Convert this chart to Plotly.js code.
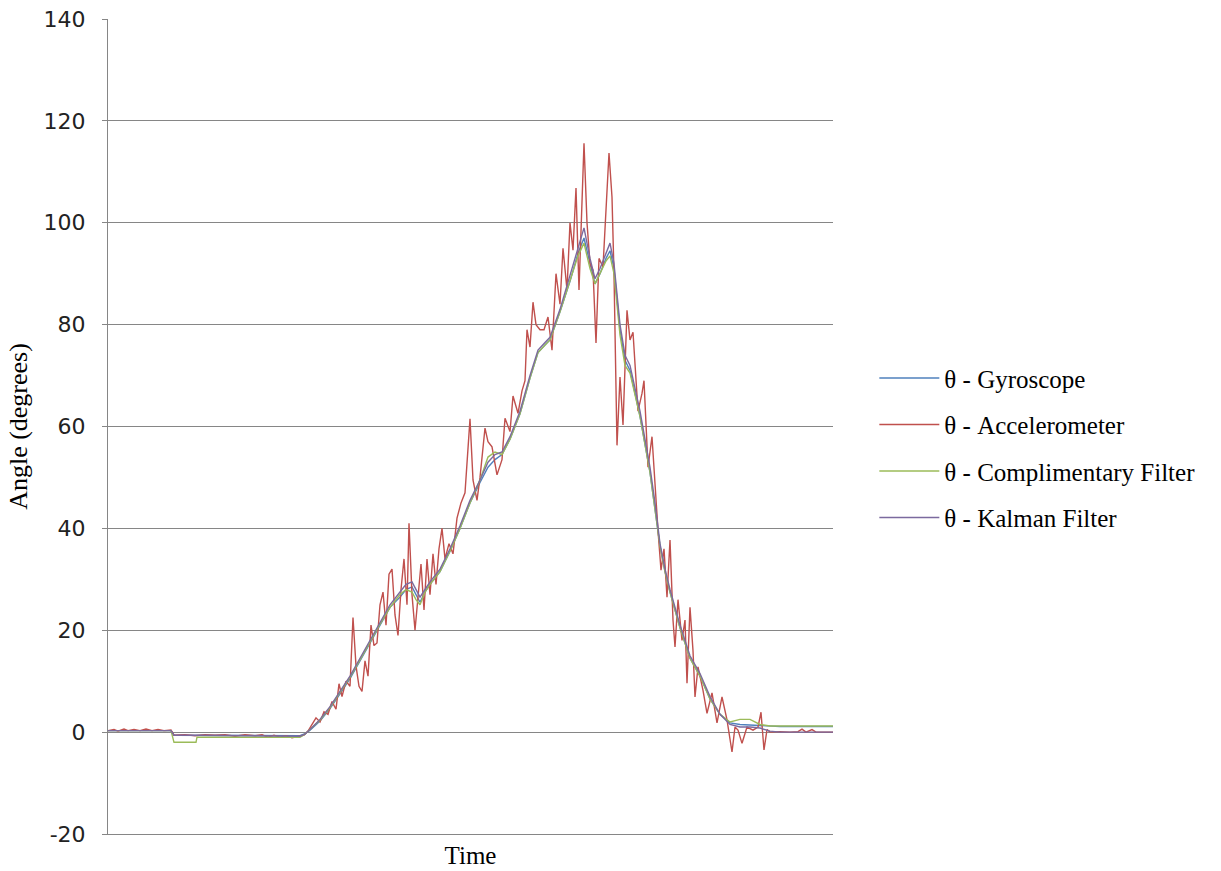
<!DOCTYPE html>
<html>
<head>
<meta charset="utf-8">
<script src="https://cdn.plot.ly/plotly-3.0.1.min.js"></script>
<style>html,body{margin:0;padding:0;background:#fff;}#chart{width:1221px;height:871px;}</style>
</head>
<body>
<div id="chart"></div>
<script>
// Accelerometer (noisy) series
var accelTime = [108,114,118,124,128,134,140,146,152,158,
164,171,174,185,195,205,215,225,235,245,
255,262,268,274,280,286,292,298,304,308,
312,316,320,324,328,332,336,339,342,346,
350,353,356,359,362,365,368,371,374,377,
380,383,386,389,392,395,398,401,404,407,
409,412,415,418,421,424,427,430,433,436,
439,442,445,449,453,457,461,465,470,473,
477,480,485,488,492,497,502,505,510,513,
518,522,525,527,530,533,536,540,544,548,
552,556,560,563,567,570,573,576,579,584,
587,590,593,596,599,603,606,609,612,614,
617,620,623,627,630,633,638,642,644,648,
652,655,658,661,664,667,670,673,675,678,
682,685,687,690,693,695,698,703,707,712,
717,722,727,732,735,738,742,747,753,758,
761,764,767,770,780,790,798,802,806,812,
816,833];
var accelAngle = [0.3,0.5,0.2,0.6,0.3,0.5,0.3,0.6,0.3,0.5,
0.3,0.4,-0.6,-0.5,-0.7,-0.5,-0.6,-0.5,-0.8,-0.5,
-0.7,-0.5,-1.0,-0.6,-1.0,-0.7,-1.1,-0.8,-0.6,0.2,
1.5,2.8,2,4,3.5,6,4.5,9.5,7,10,
9,22.5,13,9,8,14,11,21,17,17.5,
25,27.5,21,31,32,23,19,28,34,25,
41,27,20,26,33,24,34,27,35,29,
36,40,34,37,35,42,45,47,61.5,49.5,
45.5,50,59.7,57,56,50.5,53.5,61.6,59,66,
62.6,67,69,79,75.6,84.4,80,79,79,81.5,
75,90,84,95,86.8,100,94.6,106.8,86.8,115.6,
100,92,90.7,76.4,93,91.3,102,113.7,105,90,
56.3,69.7,60.3,82.8,77,78.5,63,66.5,69,52,
58,48,39.6,31.8,36,26.5,37.7,22,16.7,26,
18,22,9.6,24.5,16,6.9,12.8,8.2,3.7,7.7,
1.8,6.9,2.4,-3.9,1,0.4,-2.2,1,0.4,1,
3.9,-3.5,0.5,0,0.1,0,0.1,0.6,0,0.5,
0,0];

// Smooth series share one time base
var smoothTime = [108,171,174,196,197,300,305,310,320,330,
340,350,360,370,380,390,400,406,412,416,
420,425,430,440,450,460,470,480,488,495,
502,510,520,530,538,545,550,560,570,578,
584,590,595,600,606,610,614,620,625,630,
640,650,655,660,665,670,680,690,700,710,
720,730,740,750,760,770,780,798,833];
var gyroAngle = [0.3,0.3,-0.6,-0.6,-0.6,-0.7,-0.3,0.4,2.2,4.6,
7.5,10.5,14,17.5,21,24.5,26.5,28,28.5,27,
25.5,27.5,29,31.5,35.5,40,45,49,52,53.5,
54.5,57.5,62.5,69.5,74.5,76,77,82.5,88.5,94,
97,92,88,90,93,94.5,91,79,73,71,
62,51,44,36.5,31.5,27.5,20.5,14.5,11,6.5,
3.5,1.8,1.5,1.4,1.2,1.1,1.1,1.1,1.1];
var compAngle = [0.3,0.3,-2,-2,-1,-1,-0.4,0.5,2.4,4.8,
7.8,10.8,14.2,17.8,21.2,24.5,27,28,27.5,26,
25,27.5,29,31.5,35.5,40,45,49.5,54,55,
54.5,57.5,62.5,69.5,74.5,76,77,82.5,88.5,93.5,
96,91,88,90,92.5,93.5,90,78,72,70.5,
62,51,44,36.5,31.5,27.5,20.5,14.5,11,6.5,
3.5,2,2.5,2.5,1.5,1.2,1.2,1.2,1.2];
var kalmanAngle = [0.3,0.3,-0.6,-0.6,-0.6,-0.8,-0.4,0.5,2.5,5,
8,11,14.5,18,21.5,25,27.5,29,29.5,28,
26.5,28,29.5,32,36,40.5,45.5,49.5,53,54.5,
55,58,63,70,75,76.5,77.5,83,89.5,95,
99,93,89,91,94,96,92,80,74,72,
63,52,45,37,32,28,21,15,11.5,7,
3.5,1.5,1,1,0.8,0.2,0,0,0];

var seriesNames = ['θ - Gyroscope','θ - Accelerometer','θ - Complimentary Filter','θ - Kalman Filter'];
var seriesColors = ['#4F81BD','#C0504D','#9BBB59','#7B6A9E'];
var yTicks = [-20,0,20,40,60,80,100,120,140];

var xs = [smoothTime, accelTime, smoothTime, smoothTime];
var ys = [gyroAngle, accelAngle, compAngle, kalmanAngle];
var traces = seriesNames.map(function(n,i){
  return {x: xs[i], y: ys[i], type:'scatter', mode:'lines', name:n,
    legendgroup:'g'+i, line:{color:seriesColors[i], width:1.4}};
});

var serif = 'Liberation Serif, Times New Roman, serif';
var layout = {
  width:1221, height:871,
  margin:{l:108, r:388, t:19, b:37},
  paper_bgcolor:'#fff', plot_bgcolor:'#fff',
  showlegend:true,
  legend:{x:1.057, xanchor:'left', y:0.474, yanchor:'middle',
    traceorder:'grouped', tracegroupgap:11,
    font:{family:serif, size:25, color:'#000'},
    itemwidth:60, bgcolor:'rgba(0,0,0,0)'},
  xaxis:{range:[108,833], showgrid:false, zeroline:false, showticklabels:false,
    showline:true, linecolor:'#868686', linewidth:1, ticks:'',
    title:{text:'Time', standoff:12, font:{family:serif, size:25, color:'#000'}}},
  yaxis:{range:[-20,140], tickvals:yTicks, ticktext:yTicks.map(String),
    showgrid:true, gridcolor:'#868686', gridwidth:1, zeroline:false,
    showline:true, linecolor:'#868686', linewidth:1,
    ticks:'outside', ticklen:5, tickcolor:'#868686', ticklabelstandoff:12,
    tickfont:{family:'DejaVu Sans, sans-serif', size:22, color:'#222'},
    title:{text:'Angle (degrees)', standoff:8, font:{family:serif, size:26, color:'#000'}}}
};
Plotly.newPlot('chart', traces, layout, {displayModeBar:false, staticPlot:true});
</script>
</body>
</html>
